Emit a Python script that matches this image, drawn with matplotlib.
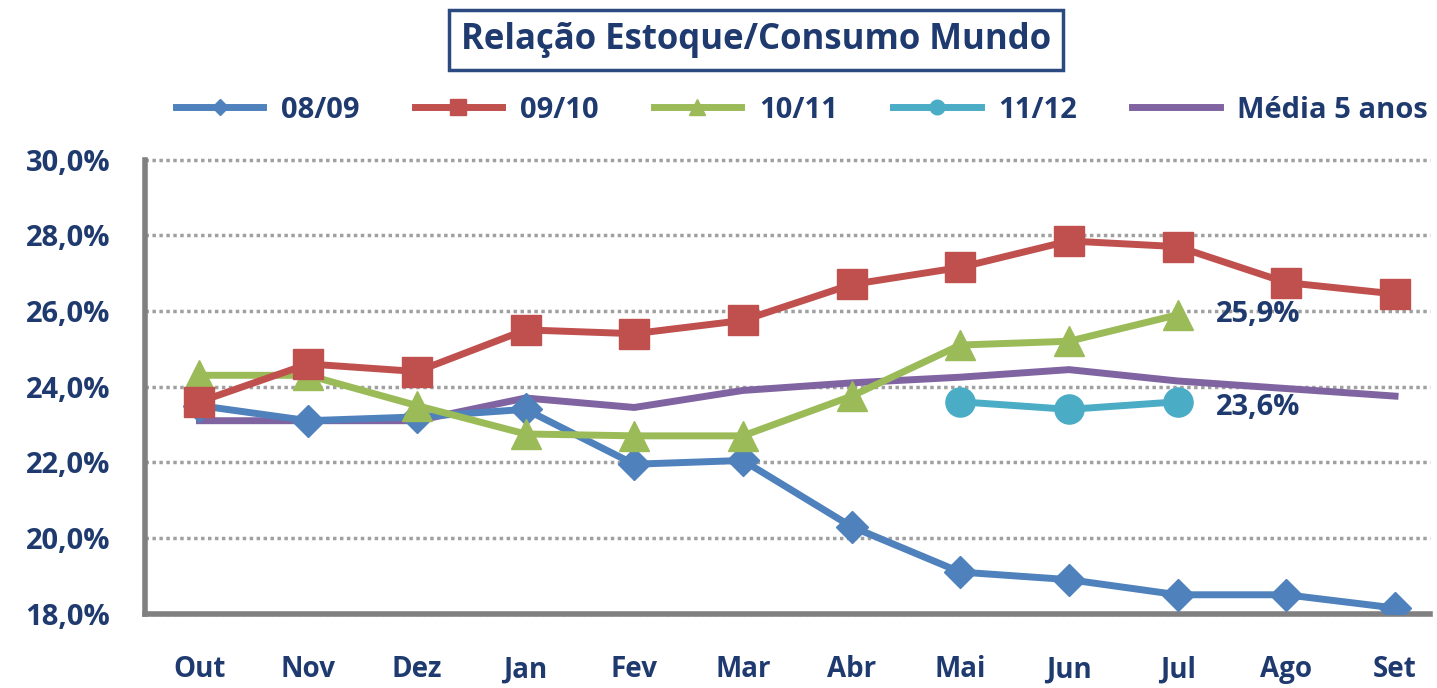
import matplotlib.pyplot as plt
from matplotlib.ticker import FuncFormatter

plt.rcParams['font.family'] = ['Open Sans', 'DejaVu Sans']

meses = ['Out', 'Nov', 'Dez', 'Jan', 'Fev', 'Mar', 'Abr', 'Mai', 'Jun', 'Jul', 'Ago', 'Set']
safra_0809 = [23.5, 23.1, 23.2, 23.4, 21.95, 22.05, 20.3, 19.1, 18.9, 18.5, 18.5, 18.15]
safra_0910 = [23.6, 24.6, 24.4, 25.5, 25.4, 25.75, 26.7, 27.15, 27.85, 27.7, 26.75, 26.45]
safra_1011 = [24.3, 24.3, 23.5, 22.75, 22.7, 22.7, 23.75, 25.1, 25.2, 25.9]
safra_1112 = [23.6, 23.4, 23.6]
media_5anos = [23.1, 23.1, 23.1, 23.7, 23.45, 23.9, 24.1, 24.25, 24.45, 24.15, 23.95, 23.75]
anotacoes = ['25,9%', '23,6%']

azul_texto = '#1F3A6E'

fig = plt.figure(figsize=(14.37, 6.88), dpi=100)
ax = fig.add_axes([0.101, 0.108, 0.894, 0.660])

x = list(range(len(meses)))
ax.plot(x, media_5anos, color='#8064A2', lw=5, label='Média 5 anos', zorder=3)
ax.plot(x, safra_0809, color='#4F81BD', lw=5, marker='D', ms=16, label='08/09', zorder=4)
ax.plot(x[:len(safra_1011)], safra_1011, color='#9BBB59', lw=5, marker='^', ms=22,
        label='10/11', zorder=5)
ax.plot(x[7:7 + len(safra_1112)], safra_1112, color='#4BACC6', lw=5, marker='o', ms=21,
        label='11/12', zorder=5)
ax.plot(x, safra_0910, color='#C0504D', lw=5, marker='s', ms=22, label='09/10', zorder=6)

ax.text(9.35, safra_1011[-1], anotacoes[0], fontsize=21, fontweight='bold',
        color=azul_texto, va='center')
ax.text(9.35, safra_1112[-1] - 0.15, anotacoes[1], fontsize=21, fontweight='bold',
        color=azul_texto, va='center')

ax.set_xlim(-0.5, 11.32)
ax.set_ylim(18, 30)
ax.set_yticks([18, 20, 22, 24, 26, 28, 30])
ax.yaxis.set_major_formatter(FuncFormatter(lambda v, p: f'{v:.1f}%'.replace('.', ',')))
ax.set_xticks(x)
ax.set_xticklabels(meses)
ax.tick_params(axis='x', length=0, labelsize=20, labelcolor=azul_texto, pad=30)
ax.tick_params(axis='y', length=0, labelsize=21, labelcolor=azul_texto, pad=25)
for lbl in ax.get_xticklabels() + ax.get_yticklabels():
    lbl.set_fontweight('bold')

ax.grid(axis='y', color='#A0A0A0', ls=(0, (1, 1)), lw=2.5, clip_on=False)
ax.set_axisbelow(True)
for s in ['top', 'right']:
    ax.spines[s].set_visible(False)
for s in ['left', 'bottom']:
    ax.spines[s].set_color('#808080')
    ax.spines[s].set_linewidth(4)
    ax.spines[s].set_zorder(2)

fig.text(0.526, 0.942, 'Relação Estoque/Consumo Mundo', ha='center', va='center',
         fontsize=25, fontweight='bold', color=azul_texto,
         bbox=dict(boxstyle='square,pad=0.35', fc='white', ec='#2B4A80', lw=2.5))

handles, labels = ax.get_legend_handles_labels()
ordem = ['08/09', '09/10', '10/11', '11/12', 'Média 5 anos']
hs = [handles[labels.index(o)] for o in ordem]
leg = fig.legend(hs, ordem, loc='center', bbox_to_anchor=(0.558, 0.84), ncol=5,
                 frameon=False, handlelength=3, columnspacing=1.9, handletextpad=0.6,
                 markerscale=0.5, prop={'size': 21, 'weight': 'bold'})
for t in leg.get_texts():
    t.set_color(azul_texto)

fig.savefig('out.png', dpi=100)
